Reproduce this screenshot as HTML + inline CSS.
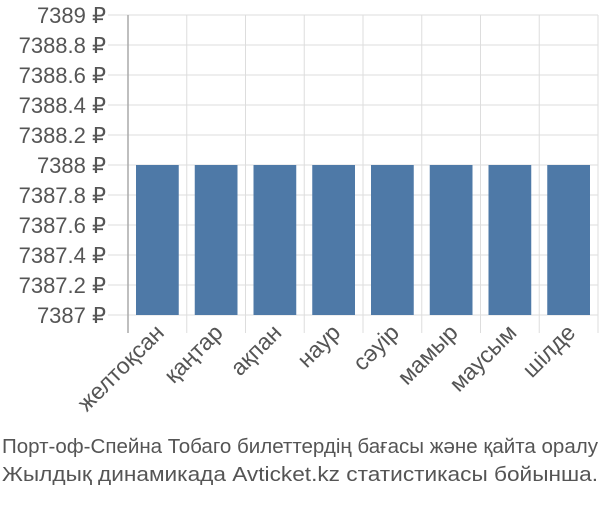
<!DOCTYPE html>
<html><head><meta charset="utf-8"><style>
body{margin:0;background:#fff;width:600px;height:500px;overflow:hidden;font-family:"Liberation Sans",sans-serif}
</style></head><body>
<svg id="chart" width="600" height="500" xmlns="http://www.w3.org/2000/svg" font-family="Liberation Sans, sans-serif"></svg>
<script>
const categories=["желтоқсан","қаңтар","ақпан","наур","сәуір","мамыр","маусым","шілде"];
const values=[7388,7388,7388,7388,7388,7388,7388,7388];
const yTicks=[7387,7387.2,7387.4,7387.6,7387.8,7388,7388.2,7388.4,7388.6,7388.8,7389];
const yTickLabels=["7387 ₽","7387.2 ₽","7387.4 ₽","7387.6 ₽","7387.8 ₽","7388 ₽","7388.2 ₽","7388.4 ₽","7388.6 ₽","7388.8 ₽","7389 ₽"];
const svg=document.getElementById('chart');
const NS="http://www.w3.org/2000/svg";
const X0=128,X1=598,Y0=315,Y1=15,YMIN=7387,YMAX=7389;
const band=(X1-X0)/categories.length;
const y=v=>Y0-(v-YMIN)/(YMAX-YMIN)*(Y0-Y1);
const xb=i=>X0+i*band;
function mk(t,a){const e=document.createElementNS(NS,t);for(const k in a)e.setAttribute(k,a[k]);svg.appendChild(e);return e;}
yTicks.forEach((t,i)=>{
 const l=mk('line',{x1:108,x2:X1,y1:y(t),y2:y(t),stroke:'#ddd','stroke-width':1});
 
 
 const tx=mk('text',{x:106,y:y(t)+8,'text-anchor':'end','font-size':22,fill:'#555'});
 tx.textContent=yTickLabels[i];
 
 
});
for(let i=1;i<=categories.length;i++){
 const l=mk('line',{x1:xb(i),x2:xb(i),y1:Y1,y2:333,stroke:'#ddd','stroke-width':1});
 
 
}
const ax=mk('line',{x1:X0,x2:X0,y1:Y1,y2:333,stroke:'#aaa','stroke-width':1.5});


categories.forEach((c,i)=>{
 const top=y(values[i]);
 const r=mk('rect',{x:xb(i)+8,y:top,width:band-16,height:Y0-top,fill:'#4e79a7'});
 
 
 const cx=xb(i)+band/2+8,cy=334;
 const t=mk('text',{x:cx,y:cy,'text-anchor':'end','font-size':23,fill:'#555',transform:`rotate(-45 ${cx} ${cy})`});
 t.textContent=c;
 
 
});
const f1=mk('text',{x:2,y:453,'font-size':20,fill:'#555',textLength:596,lengthAdjust:'spacingAndGlyphs'});
f1.textContent="Порт-оф-Спейна Тобаго билеттердің бағасы және қайта оралу";


const f2=mk('text',{x:2,y:481,'font-size':20,fill:'#555',textLength:596,lengthAdjust:'spacingAndGlyphs'});
f2.textContent="Жылдық динамикада Avticket.kz статистикасы бойынша.";


</script>
</body></html>
